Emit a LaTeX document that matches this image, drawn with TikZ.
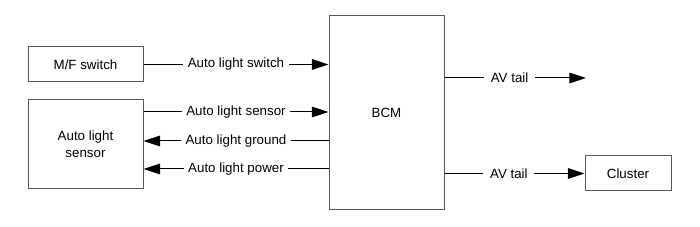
\documentclass[tikz,border=0pt]{standalone}
\usepackage{fontspec}
\setmainfont{Liberation Sans}
\usetikzlibrary{arrows.meta}
\begin{document}
\begin{tikzpicture}[x=0.75pt,y=-0.75pt, font=\fontsize{10}{12.5}\selectfont,
  box/.style={draw=black!65, line width=0.75pt, rectangle, inner sep=0pt, align=center},
  wire/.style={draw=black, line width=0.75pt},
  arr/.style={-{Triangle[length=12.5pt,width=8pt]}},
  lbl/.style={fill=white, inner sep=3.5pt}]
\useasboundingbox (0,0) rectangle (700,227);
\node[box, minimum width=86.25pt, minimum height=26.25pt] (mf) at (85.5,64.5) {M/F switch};
\node[box, minimum width=86.25pt, minimum height=66.75pt] (sensor) at (85.5,144.5) {Auto light\\sensor};
\node[box, minimum width=86.25pt, minimum height=145.5pt] (bcm) at (386.5,113) {BCM};
\node[box, minimum width=64.5pt, minimum height=26.25pt] (cluster) at (628,173.5) {Cluster};
\coordinate (ysens) at (0,112);
\coordinate (ygnd) at (0,141);
\coordinate (ypwr) at (0,169);
\coordinate (yav) at (0,78);
\coordinate (avend) at (586,78);
\draw[wire, arr] (mf.east) -- node[lbl] {Auto light switch} (bcm.west |- mf.east);
\draw[wire, arr] (sensor.east |- ysens) -- node[lbl] {Auto light sensor} (bcm.west |- ysens);
\draw[wire, arr] (bcm.west |- ygnd) -- node[lbl] {Auto light ground} (sensor.east |- ygnd);
\draw[wire, arr] (bcm.west |- ypwr) -- node[lbl] {Auto light power} (sensor.east |- ypwr);
\draw[wire, arr] (bcm.east |- yav) -- node[lbl, pos=0.46, inner xsep=5pt] {AV tail} (avend);
\draw[wire, arr] (bcm.east |- cluster.west) -- node[lbl, pos=0.46, inner xsep=5pt] {AV tail} (cluster.west);
\end{tikzpicture}
\end{document}
